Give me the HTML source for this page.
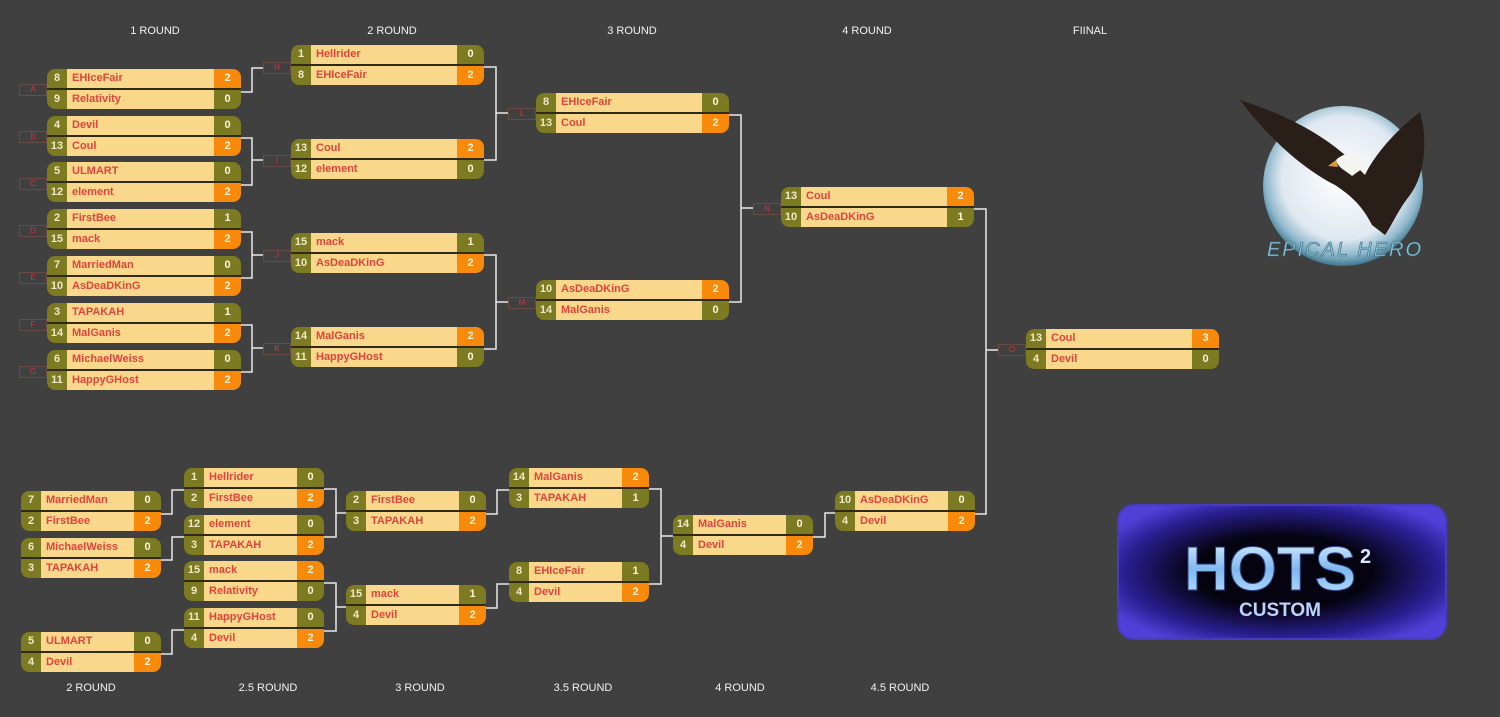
<!DOCTYPE html>
<html><head><meta charset="utf-8"><style>
body{margin:0;width:1500px;height:717px;background:#404040;position:relative;overflow:hidden;font-family:"Liberation Sans",Arial,sans-serif}
.m{position:absolute;height:40px;border-radius:8px;overflow:hidden;background:#2e2a1e}
.r{position:absolute;left:0;right:0;height:19px;display:flex;font-size:11px;font-weight:bold;line-height:19px}
.s{width:20px;background:#7c7b22;color:#efe8c8;text-align:center;flex:none}
.n{flex:1;background:#f9d88c;color:#e0443c;padding-left:5px}
.c{width:27px;background:#7c7b22;color:#fff3d8;text-align:center;flex:none}
.c.w{background:#f78a0a}
.lb{position:absolute;width:26px;height:10px;border:1px solid #6a4a44;color:#d8303a;font-size:8px;line-height:10px;text-align:center}
.h{position:absolute;color:#f2f2f2;font-size:11px;width:120px;text-align:center}
</style></head><body>
<svg width="1500" height="717" style="position:absolute;left:0;top:0">
<g fill="none" stroke="#e8e8e8" stroke-width="1.5">
<polyline points="241,92 252,92 252,68 263,68"/>
<polyline points="241,138 252,138 252,185 241,185"/><line x1="252" y1="160" x2="263" y2="160"/>
<polyline points="241,232 252,232 252,278 241,278"/><line x1="252" y1="255" x2="263" y2="255"/>
<polyline points="241,325 252,325 252,372 241,372"/><line x1="252" y1="348" x2="263" y2="348"/>
<polyline points="484,67 496,67 496,160 484,160"/><line x1="496" y1="113" x2="508" y2="113"/>
<polyline points="484,255 496,255 496,349 484,349"/><line x1="496" y1="302" x2="508" y2="302"/>
<polyline points="729,115 741,115 741,302 729,302"/><line x1="741" y1="208" x2="753" y2="208"/>
<polyline points="974,209 986,209 986,514 975,514"/><line x1="986" y1="350" x2="998" y2="350"/>
<polyline points="161,514 172,514 172,490 184,490"/>
<polyline points="161,560 172,560 172,537 184,537"/>
<polyline points="161,654 172,654 172,630 184,630"/>
<polyline points="324,489 336,489 336,537 324,537"/><line x1="336" y1="513" x2="346" y2="513"/>
<polyline points="324,583 336,583 336,631 324,631"/><line x1="336" y1="607" x2="346" y2="607"/>
<polyline points="486,514 497,514 497,490 509,490"/>
<polyline points="486,608 497,608 497,584 509,584"/>
<polyline points="649,489 661,489 661,584 649,584"/><line x1="661" y1="536" x2="673" y2="536"/>
<polyline points="813,537 825,537 825,513 835,513"/>
</g>
<defs>
<radialGradient id="moon" cx="50%" cy="45%" r="55%"><stop offset="0" stop-color="#ffffff"/><stop offset=".7" stop-color="#dfe8f0"/><stop offset=".88" stop-color="#8fb8cc"/><stop offset="1" stop-color="#3f7890"/></radialGradient>
<radialGradient id="hb" cx="50%" cy="50%" r="60%"><stop offset=".45" stop-color="#05030f"/><stop offset=".8" stop-color="#2a1e90"/><stop offset="1" stop-color="#5040d8"/></radialGradient>
<linearGradient id="ht" x1="0" y1="0" x2="0" y2="1"><stop offset="0" stop-color="#e8f4ff"/><stop offset=".5" stop-color="#7fb8f0"/><stop offset="1" stop-color="#c8e4ff"/></linearGradient>
</defs>
<circle cx="1343" cy="186" r="80" fill="url(#moon)"/>
<path d="M1240,100 C1270,110 1310,125 1345,155 L1365,175 C1372,160 1390,135 1420,112 C1428,140 1425,175 1410,195 C1398,210 1392,225 1385,235 L1372,225 C1362,205 1350,195 1335,185 C1305,170 1270,140 1240,100Z" fill="#2a1e18"/>
<path d="M1336,160 C1346,150 1362,152 1366,166 L1352,176 C1345,170 1338,168 1336,160Z" fill="#f4f4f0"/>
<path d="M1336,160 L1328,166 L1338,167Z" fill="#d8a030"/>
<text x="1345" y="256" font-family="Liberation Sans" font-style="italic" font-size="20" fill="#8ec7dc" text-anchor="middle" letter-spacing="2" stroke="#3a6878" stroke-width=".6">EPICAL HERO</text>
<rect x="1118" y="505" width="328" height="134" rx="16" fill="url(#hb)" stroke="#4a3ac0" stroke-width="2"/>
<text x="1270" y="590" font-family="Liberation Sans" font-weight="bold" font-size="62" fill="url(#ht)" text-anchor="middle" stroke="#2a4a8a" stroke-width="1">HOTS</text>
<text x="1360" y="563" font-family="Liberation Sans" font-weight="bold" font-size="20" fill="#dde8ff">2</text>
<text x="1280" y="616" font-family="Liberation Sans" font-weight="bold" font-size="19" fill="#b8d4ff" text-anchor="middle">CUSTOM</text>
</svg>
<div id="root"></div>
<script>
var H=[["1 ROUND",95,25],["2 ROUND",332,25],["3 ROUND",572,25],["4 ROUND",807,25],["FIINAL",1030,25],["2 ROUND",31,682],["2.5 ROUND",208,682],["3 ROUND",360,682],["3.5 ROUND",523,682],["4 ROUND",680,682],["4.5 ROUND",840,682]];
var M=[
[47,69,194,"8","EHIceFair",2,"9","Relativity",0],
[47,116,194,"4","Devil",0,"13","Coul",2],
[47,162,194,"5","ULMART",0,"12","element",2],
[47,209,194,"2","FirstBee",1,"15","mack",2],
[47,256,194,"7","MarriedMan",0,"10","AsDeaDKinG",2],
[47,303,194,"3","TAPAKAH",1,"14","MalGanis",2],
[47,350,194,"6","MichaelWeiss",0,"11","HappyGHost",2],
[291,45,193,"1","Hellrider",0,"8","EHIceFair",2],
[291,139,193,"13","Coul",2,"12","element",0],
[291,233,193,"15","mack",1,"10","AsDeaDKinG",2],
[291,327,193,"14","MalGanis",2,"11","HappyGHost",0],
[536,93,193,"8","EHIceFair",0,"13","Coul",2],
[536,280,193,"10","AsDeaDKinG",2,"14","MalGanis",0],
[781,187,193,"13","Coul",2,"10","AsDeaDKinG",1],
[1026,329,193,"13","Coul",3,"4","Devil",0],
[21,491,140,"7","MarriedMan",0,"2","FirstBee",2],
[21,538,140,"6","MichaelWeiss",0,"3","TAPAKAH",2],
[21,632,140,"5","ULMART",0,"4","Devil",2],
[184,468,140,"1","Hellrider",0,"2","FirstBee",2],
[184,515,140,"12","element",0,"3","TAPAKAH",2],
[184,561,140,"15","mack",2,"9","Relativity",0],
[184,608,140,"11","HappyGHost",0,"4","Devil",2],
[346,491,140,"2","FirstBee",0,"3","TAPAKAH",2],
[346,585,140,"15","mack",1,"4","Devil",2],
[509,468,140,"14","MalGanis",2,"3","TAPAKAH",1],
[509,562,140,"8","EHIceFair",1,"4","Devil",2],
[673,515,140,"14","MalGanis",0,"4","Devil",2],
[835,491,140,"10","AsDeaDKinG",0,"4","Devil",2]];
var L=[["A",19,84],["B",19,131],["C",19,178],["D",19,225],["E",19,272],["F",19,319],["G",19,366],["H",263,62],["I",263,155],["J",263,250],["K",263,343],["L",508,108],["M",508,297],["N",753,203],["O",998,344]];
var h="";
H.forEach(function(a){h+='<div class="h" style="left:'+a[1]+'px;top:'+a[2]+'px">'+a[0]+'</div>'});
function row(t,s,n,c,w){return '<div class="r" style="top:'+t+'px"><div class="s">'+s+'</div><div class="n">'+n+'</div><div class="c'+(w?' w':'')+'">'+c+'</div></div>'}
M.forEach(function(m){var w1=m[5]>m[8];h+='<div class="m" style="left:'+m[0]+'px;top:'+m[1]+'px;width:'+m[2]+'px">'+row(0,m[3],m[4],m[5],w1)+row(21,m[6],m[7],m[8],!w1)+'</div>'});
L.forEach(function(l){h+='<div class="lb" style="left:'+l[1]+'px;top:'+l[2]+'px">'+l[0]+'</div>'});
document.getElementById("root").innerHTML=h;
</script>
</body></html>
